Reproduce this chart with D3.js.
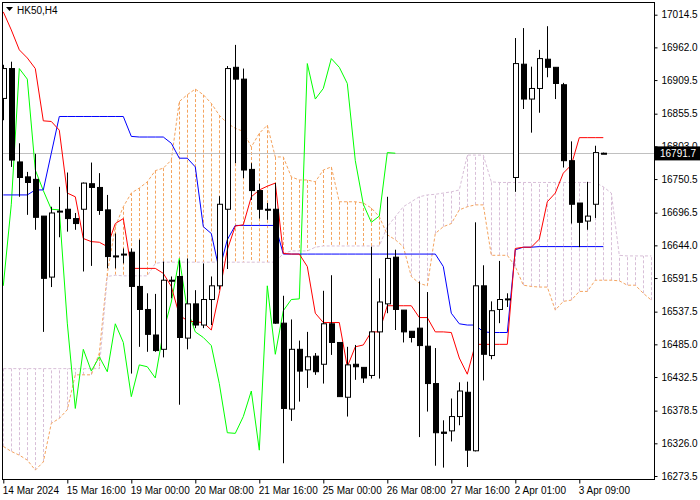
<!DOCTYPE html>
<html>
<head>
<meta charset="utf-8">
<script src="https://cdn.jsdelivr.net/npm/d3@7"></script>
<style>
  body { margin: 0; background: #fff; }
  svg text { font-family: "Liberation Sans", Arial, sans-serif; font-size: 10px; }
</style>
</head>
<body>
<div id="chart"></div>
<script>
// candles, one per H4 bar
var opens  = [16880,16928,16778,16754,16750,16691,16593,16698,16702,16687,16702,16743,16737,16701,16627,16630,16633,16578,16541,16500,16477,16588,16594,16495,16550,16516,16557,16579,16702,16930,16911,16766,16732,16702,16702,16519,16381,16477,16444,16466,16453,16518,16488,16400,16453,16448,16435,16505,16550,16625,16540,16506,16511,16482,16422,16344,16346,16369,16408,16314,16579,16467,16541,16557,16753,16935,16879,16896,16943,16930,16902,16780,16712,16683,16710,16792];
var highs  = [16934,16939,16808,16762,16791,16691,16706,16738,16761,16696,16745,16777,16760,16725,16663,16639,16639,16653,16567,16566,16618,16594,16620,16623,16572,16615,16594,16723,16932,16966,16928,16776,16743,16712,16744,16563,16525,16491,16505,16471,16571,16596,16488,16481,16484,16448,16642,16591,16722,16637,16540,16506,16586,16569,16479,16363,16398,16424,16425,16681,16612,16554,16619,16567,16977,16993,16931,16958,16996,16930,16905,16811,16712,16746,16804,16793];
var lows   = [16845,16770,16722,16693,16669,16505,16577,16657,16666,16669,16602,16611,16693,16607,16607,16615,16438,16481,16473,16473,16464,16559,16388,16477,16511,16511,16516,16573,16606,16776,16752,16717,16687,16685,16518,16294,16362,16393,16415,16436,16422,16468,16401,16369,16428,16423,16430,16430,16535,16508,16488,16488,16336,16377,16290,16287,16329,16355,16288,16313,16427,16461,16519,16545,16730,16863,16825,16857,16914,16879,16769,16679,16641,16669,16688,16791];
var closes = [16928,16781,16753,16745,16689,16591,16696,16699,16687,16679,16744,16737,16700,16626,16626,16630,16578,16541,16501,16475,16588,16587,16496,16550,16516,16557,16579,16710,16928,16911,16765,16732,16702,16701,16519,16382,16477,16442,16465,16441,16518,16488,16401,16452,16449,16431,16505,16553,16623,16541,16505,16496,16483,16422,16343,16342,16369,16410,16315,16579,16469,16539,16557,16558,16936,16879,16896,16944,16930,16904,16780,16710,16681,16691,16793,16792];

// Ichimoku lines, read per bar
var tenkan = [17019,16990,16958,16945,16928,16844,16843,16829,16728,16722,16655,16650,16649,16642,16679,16687,16607,16607,16607,16607,16599,16578,16532,16523,16521,16520,16508,16567,16637,16675,16677,16722,16733,16739,16744,16631,16630,16630,16610,16535,16520,16520,16520,16449,16481,16484,16505,16505,16547,16547,16547,16547,16528,16528,16505,16505,16504,16463,16437,16485,16485,16485,16485,16485,16639,16641,16641,16654,16714,16728,16760,16773,16817,16817,16817,16817];
var kijun  = [16725,16725,16725,16725,16733,16733,16792,16851,16851,16851,16851,16851,16851,16851,16851,16851,16819,16818,16818,16818,16818,16808,16784,16784,16770,16674,16663,16604,16653,16676,16676,16676,16676,16676,16676,16630,16630,16630,16630,16630,16630,16630,16630,16630,16630,16630,16630,16630,16630,16630,16630,16630,16630,16630,16630,16610,16535,16518,16516,16516,16505,16504,16504,16504,16637,16641,16641,16642,16642,16642,16642,16642,16642,16642,16642,16642];
var spanA  = [16321,16313,16307,16299,16283,16296,16358,16366,16380,16436,16436,16436,16471,16599,16674,16706,16728,16736,16746,16764,16768,16781,16875,16886,16895,16886,16872,16853,16840,16832,16827,16802,16824,16837,16786,16786,16754,16749,16749,16746,16765,16770,16714,16714,16714,16712,16704,16690,16661,16653,16642,16594,16583,16579,16663,16674,16679,16701,16706,16709,16709,16628,16628,16628,16610,16580,16578,16577,16577,16540,16554,16556,16570,16570,16588,16588,16588,16587,16580,16580,16567,16556];
var spanB  = [16446,16446,16446,16446,16446,16446,16446,16446,16446,16446,16446,16446,16446,16594,16596,16595,16595,16595,16595,16615,16617,16617,16617,16617,16617,16617,16617,16617,16617,16617,16617,16617,16617,16617,16617,16631,16635,16635,16635,16641,16643,16643,16643,16643,16643,16643,16643,16643,16674,16690,16706,16714,16722,16725,16726,16728,16730,16733,16789,16789,16789,16746,16745,16745,16745,16745,16745,16745,16745,16745,16745,16745,16745,16745,16745,16738,16728,16628,16627,16627,16627,16627];
var chikouShift = 26;

var yTicks = [17014.5,16962.0,16909.5,16855.5,16803.0,16750.5,16696.5,16644.0,16591.5,16537.5,16485.0,16432.5,16378.5,16326.0,16273.5];
var xLabels = ["14 Mar 2024","15 Mar 16:00","19 Mar 00:00","20 Mar 08:00","21 Mar 16:00","25 Mar 00:00","26 Mar 08:00","27 Mar 16:00","2 Apr 01:00","3 Apr 09:00"];
var lastPrice = 16791.7;
var symbol = "HK50,H4";

var W = 700, H = 500;
var plot = {left: 2, top: 2, right: 654, bottom: 479};

var svg = d3.select("#chart").append("svg").attr("width", W).attr("height", H);

var x = d3.scaleLinear().domain([0, 1]).range([3.3, 11.3]);
var y = d3.scaleLinear().domain([16273.5, 17014.5]).range([476, 14.7]);

var g = svg.append("g");
g.append("clipPath").attr("id", "clip").append("rect")
  .attr("x", plot.left).attr("y", plot.top)
  .attr("width", plot.right - plot.left).attr("height", plot.bottom - plot.top);
var body = g.append("g").attr("clip-path", "url(#clip)");

// cloud hatch
var cloud = d3.range(spanA.length);
body.selectAll(".hatch").data(cloud).enter().append("line")
  .attr("x1", function(i) { return Math.round(x(i)) + 0.5; })
  .attr("x2", function(i) { return Math.round(x(i)) + 0.5; })
  .attr("y1", function(i) { return y(spanA[i]); })
  .attr("y2", function(i) { return y(spanB[i]); })
  .attr("stroke", function(i) { return spanA[i] >= spanB[i] ? "#f4a460" : "#d8bfd8"; })
  .attr("stroke-dasharray", "3,2");

var line = function(arr) {
  return d3.line().defined(function(d) { return d != null; })
    .x(function(d, i) { return x(i); }).y(function(d) { return y(d); })(arr);
};
body.append("path").attr("d", line(spanA)).attr("fill", "none").attr("stroke", "#f4a460").attr("stroke-dasharray", "3,2");
body.append("path").attr("d", line(spanB)).attr("fill", "none").attr("stroke", "#d8bfd8").attr("stroke-dasharray", "3,2");

// bid line
body.append("line").attr("x1", plot.left).attr("x2", plot.right)
  .attr("y1", Math.round(y(lastPrice)) + 0.5).attr("y2", Math.round(y(lastPrice)) + 0.5)
  .attr("stroke", "#c0c0c0");

var chikou = closes.slice(chikouShift);
body.append("path").attr("d", line(chikou)).attr("fill", "none").attr("stroke", "#00ff00");
body.append("path").attr("d", line(kijun)).attr("fill", "none").attr("stroke", "#0000ff");
body.append("path").attr("d", line(tenkan)).attr("fill", "none").attr("stroke", "#ff0000");

// candles
var bars = body.selectAll(".bar").data(d3.range(opens.length)).enter().append("g");
bars.append("line")
  .attr("x1", function(i) { return Math.round(x(i)) + 0.5; })
  .attr("x2", function(i) { return Math.round(x(i)) + 0.5; })
  .attr("y1", function(i) { return y(highs[i]); })
  .attr("y2", function(i) { return y(lows[i]); })
  .attr("stroke", "#000");
bars.append("rect")
  .attr("x", function(i) { return Math.round(x(i)) - 2 + 0.5; })
  .attr("width", 5)
  .attr("y", function(i) { return y(Math.max(opens[i], closes[i])); })
  .attr("height", function(i) { return Math.max(1, Math.abs(y(opens[i]) - y(closes[i]))); })
  .attr("fill", function(i) { return closes[i] > opens[i] ? "#fff" : "#000"; })
  .attr("stroke", "#000");

// frame
g.append("rect").attr("x", plot.left + 0.5).attr("y", plot.top + 0.5)
  .attr("width", plot.right - plot.left).attr("height", plot.bottom - plot.top)
  .attr("fill", "none").attr("stroke", "#000");

// right axis
var yAxis = svg.append("g").attr("transform", "translate(" + (plot.right + 0.5) + ",0)")
  .call(d3.axisRight(y).tickValues(yTicks).tickFormat(d3.format(".1f")).tickSize(3).tickPadding(4));
yAxis.select(".domain").remove();
yAxis.selectAll("text").attr("fill", "#000");

// bottom axis
var xt = d3.range(0, 80, 8).slice(0, xLabels.length);
var xAxis = svg.append("g").attr("transform", "translate(0," + (plot.bottom + 0.5) + ")")
  .call(d3.axisBottom(x).tickValues(xt).tickFormat(function(d, i) { return xLabels[i]; }).tickSize(4).tickPadding(3));
xAxis.select(".domain").remove();
xAxis.selectAll("text").attr("text-anchor", "start").attr("dx", "-1").attr("fill", "#000");

// last price tag
var ly = y(lastPrice);
svg.append("rect").attr("x", plot.right + 1).attr("y", ly - 7).attr("width", 45).attr("height", 14).attr("fill", "#000");
svg.append("text").attr("x", plot.right + 6).attr("y", ly + 4).attr("fill", "#fff").text(lastPrice.toFixed(1));

// symbol
svg.append("path").attr("d", "M6,7 L13,7 L9.5,11 Z").attr("fill", "#000");
svg.append("text").attr("x", 17).attr("y", 14).attr("fill", "#000").text(symbol);
</script>
</body>
</html>
